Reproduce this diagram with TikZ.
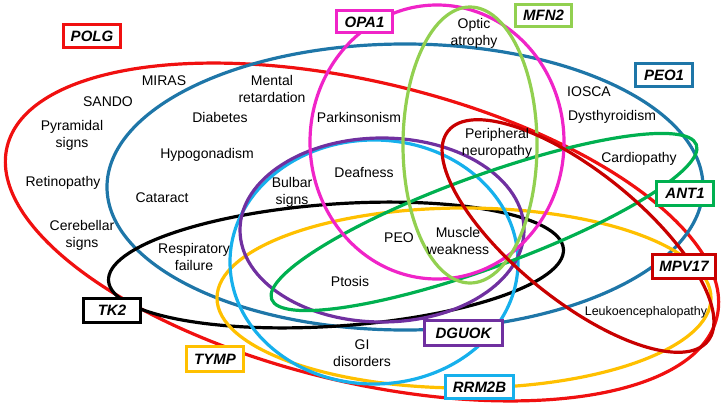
\documentclass[tikz,border=0pt]{standalone}
\usepackage{fontspec}
\setmainfont{Liberation Sans}
\definecolor{cPOLG}{RGB}{240,16,16}
\definecolor{cPEO}{RGB}{30,118,168}
\definecolor{cTYMP}{RGB}{255,192,0}
\definecolor{cRRM}{RGB}{22,176,236}
\definecolor{cDGU}{RGB}{112,48,160}
\definecolor{cANT}{RGB}{0,176,80}
\definecolor{cOPA}{RGB}{240,36,200}
\definecolor{cMFN}{RGB}{146,208,80}
\definecolor{cMPV}{RGB}{200,0,0}
\begin{document}
\begin{tikzpicture}[x=1pt,y=-1pt,
  ell/.style={line width=3.2pt},
  gene/.style={draw=#1, line width=3pt, fill=white, text=black, inner sep=0pt,
    font=\fontsize{15}{18}\selectfont\bfseries\itshape},
  lbl/.style={font=\fontsize{14}{17}\selectfont, align=center, inner sep=0pt},
]
\useasboundingbox (0,0) rectangle (722,404);
% ellipses
\draw[ell, cPOLG, rotate around={-13.5:(362,232)}] (362,232) ellipse [x radius=365, y radius=150];
\draw[ell, cPEO] (405,187) ellipse [x radius=298, y radius=143];
\draw[ell, black, rotate around={4:(336,265)}] (336,265) ellipse [x radius=228, y radius=61];
\draw[ell, cTYMP] (464,298) ellipse [x radius=247, y radius=90];
\draw[ell, cRRM] (374,262) ellipse [x radius=144, y radius=122];
\draw[ell, cDGU] (382,230) ellipse [x radius=142, y radius=92];
\draw[ell, cANT, rotate around={20:(484,222)}] (484,222) ellipse [x radius=226, y radius=46];
\draw[ell, cOPA] (437,142) ellipse [x radius=127, y radius=137];
\draw[ell, cMFN] (470,145) ellipse [x radius=67, y radius=138];
\draw[ell, cMPV, rotate around={-39:(578,236)}] (578,236) ellipse [x radius=167, y radius=64];
% labels
\node[lbl] (miras) at (164,81) {MIRAS};
\node[lbl] (sando) at (108,102) {SANDO};
\node[lbl] (pyr) at (72,135) {Pyramidal\\signs};
\node[lbl] (ret) at (63,183) {Retinopathy};
\node[lbl] (cat) at (162,198) {Cataract};
\node[lbl] (cer) at (82,235) {Cerebellar\\signs};
\node[lbl] (resp) at (194,257) {Respiratory\\failure};
\node[lbl] (diab) at (220,117) {Diabetes};
\node[lbl] (hypo) at (207,155) {Hypogonadism};
\node[lbl] (ment) at (272,89) {Mental\\retardation};
\node[lbl] (park) at (359,117) {Parkinsonism};
\node[lbl] (deaf) at (364,173) {Deafness};
\node[lbl] (bulb) at (292,192) {Bulbar\\signs};
\node[lbl] (peo) at (399,238) {PEO};
\node[lbl] (musc) at (458,241) {Muscle\\weakness};
\node[lbl] (ptos) at (350,281) {Ptosis};
\node[lbl] (peri) at (497,143) {Peripheral\\neuropathy};
\node[lbl] (optic) at (474,33) {Optic\\atrophy};
\node[lbl] (iosca) at (589,92) {IOSCA};
\node[lbl] (dys) at (612,117) {Dysthyroidism};
\node[lbl] (card) at (639,159) {Cardiopathy};
\node[lbl, font=\fontsize{12.5}{15}\selectfont] (leuk) at (646,312) {Leukoencephalopathy};
\node[lbl] (gi) at (362,353) {GI\\disorders};
% gene boxes
\node[gene=cPOLG, minimum width=57, minimum height=23] (polg) at (92,36) {POLG};
\node[gene=cOPA, minimum width=56, minimum height=22] (opa) at (364.5,22) {OPA1};
\node[gene=cMFN, minimum width=56, minimum height=22] (mfn) at (543.5,15.5) {MFN2};
\node[gene=cPEO, minimum width=57, minimum height=23] (peo1) at (664,75) {PEO1};
\node[gene=cANT, minimum width=57, minimum height=24] (ant) at (685,193.5) {ANT1};
\node[gene=cMPV, minimum width=63, minimum height=24] (mpv) at (684,266.5) {MPV17};
\node[gene=cDGU, minimum width=78, minimum height=25] (dgu) at (463.5,333) {DGUOK};
\node[gene=cRRM, minimum width=68, minimum height=23] (rrm) at (479.5,387) {RRM2B};
\node[gene=cTYMP, minimum width=57, minimum height=25] (tymp) at (215,359) {TYMP};
\node[gene=black, minimum width=57, minimum height=24] (tk) at (112,310.5) {TK2};
\end{tikzpicture}
\end{document}
